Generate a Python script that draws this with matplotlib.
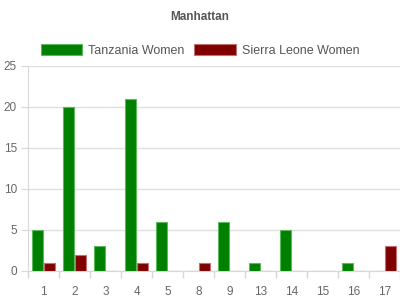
import numpy as np
import matplotlib.pyplot as plt

plt.rcParams['font.family'] = ['Liberation Sans', 'DejaVu Sans']

categories = ['1', '2', '3', '4', '5', '8', '9', '13', '14', '15', '16', '17']
tanzania = [5, 20, 3, 21, 6, 0, 6, 1, 5, 0, 1, 0]
sierra_leone = [1, 2, 0, 1, 0, 1, 0, 0, 0, 0, 0, 3]

fig = plt.figure(figsize=(4, 3), dpi=100)
ax = fig.add_axes([0.07, 0.097, 0.93, 0.683])

x = np.arange(len(categories))
w = 0.35
off = 0.195
ax.bar(x - off, tanzania, w, color='#008000', edgecolor='#5cb85c', linewidth=0.8,
       label='Tanzania Women', zorder=3)
ax.bar(x + off, sierra_leone, w, color='#800000', edgecolor='#c07070', linewidth=0.8,
       label='Sierra Leone Women', zorder=3)

ax.set_xlim(-0.5, len(categories) - 0.5)
ax.set_ylim(0, 25)
ax.set_yticks([0, 5, 10, 15, 20, 25])
ax.set_xticks(x)
ax.set_xticklabels(categories)
ax.set_xticks(np.arange(len(categories) + 1) - 0.5, minor=True)
ax.tick_params(axis='x', which='major', length=0, pad=11, labelsize=8.5, labelcolor='#666666')
ax.tick_params(axis='x', which='minor', length=5, color='#d8d8d8', width=1)
ax.tick_params(axis='y', length=5, color='#d8d8d8', pad=3, labelsize=8.5, labelcolor='#666666')
ax.grid(axis='y', color='#e0e0e0', linewidth=1, zorder=0)

for side in ['top', 'right']:
    ax.spines[side].set_visible(False)
for side in ['left', 'bottom']:
    ax.spines[side].set_color('#d8d8d8')

fig.text(0.5, 0.945, 'Manhattan', ha='center', va='center', fontsize=8.5,
         fontweight='bold', color='#555555')
fig.legend(loc='center', bbox_to_anchor=(0.5, 0.833), ncol=2, frameon=False,
           fontsize=9, handlelength=3.3, handleheight=1.0, columnspacing=0.8,
           handletextpad=0.5, labelcolor='#555555')

fig.savefig('out.png', dpi=100)
